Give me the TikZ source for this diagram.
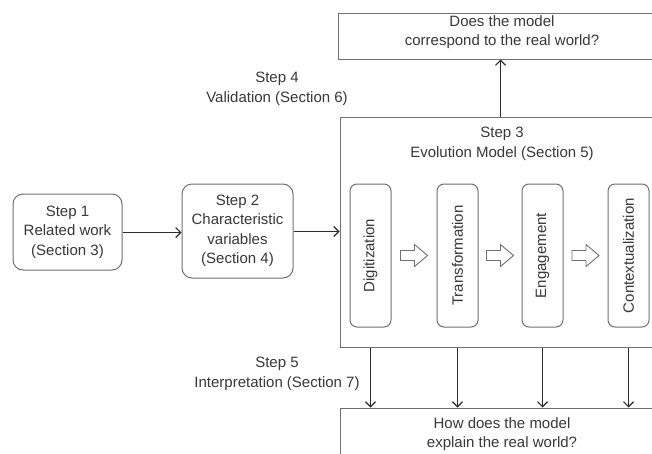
\documentclass[tikz,border=0pt]{standalone}
\usepackage{fontspec}
\setmainfont{Liberation Sans}
\usetikzlibrary{arrows.meta,calc}
\definecolor{ink}{HTML}{383838}
\definecolor{frame}{HTML}{707070}
\definecolor{wire}{HTML}{2E2E2E}
\tikzset{
  every node/.style={text=ink, font=\fontsize{15}{19.5}\selectfont, align=center},
  stepbox/.style={draw=frame, line width=1pt, rounded corners=10pt, inner sep=0pt},
  phasebox/.style={draw=frame, line width=1pt, rounded corners=7pt, inner sep=0pt,
    minimum width=41pt, minimum height=143pt},
  plainbox/.style={draw=frame, line width=1pt, inner sep=0pt},
  flow/.style={draw=wire, line width=1.1pt, -{Straight Barb[length=5pt,width=10pt]}},
  hollow/.style={draw=frame, line width=0.9pt, fill=white, line join=miter},
}
\begin{document}
\begin{tikzpicture}[x=1pt,y=-1pt]
  \clip (0,0) rectangle (652,453);
  \fill[white] (0,0) rectangle (652,453);

  % steps 1 and 2
  \node[stepbox, minimum width=109pt, minimum height=76pt] (s1) at (67.5,232)
    {Step 1\\Related work\\(Section 3)};
  \node[stepbox, minimum width=111pt, minimum height=94pt] (s2) at (237.5,231)
    {Step 2\\Characteristic\\variables\\(Section 4)};

  % step 3: the evolution model
  \node[plainbox, minimum width=324pt, minimum height=230pt] (evo) at (502,232) {};
  \node (t3) at (502,144) {Step 3\\Evolution Model (Section 5)};

  \node[phasebox] (dig) at (370.5,255.5) {\rotatebox{90}{Digitization}};
  \node[phasebox] (tra) at (457.5,255.5) {\rotatebox{90}{Transformation}};
  \node[phasebox] (eng) at (542.5,255.5) {\rotatebox{90}{Engagement}};
  \node[phasebox] (ctx) at (628.5,255.5) {\rotatebox{90}{Contextualization}};

  % hollow arrows between the phases
  \foreach \a/\b in {dig/tra, tra/eng, eng/ctx}{
    \path[hollow] ($(\a.east)!0.5!(\b.west)$) ++(-13.5,-5) -- ++(14,0) -- ++(0,-6)
      -- ++(13,11) -- ++(-13,11) -- ++(0,-6) -- ++(-14,0) -- cycle;
  }

  % questions
  \node[plainbox, minimum width=328pt, minimum height=46pt] (q1) at (502,36) {};
  \node (q1t) at (502,32) {Does the model\\correspond to the real world?};
  \node[plainbox, minimum width=324pt, minimum height=52pt] (q2) at (502,434)
    {How does the model\\explain the real world?};

  % steps 4 and 5
  \node (t4) at (277,89) {Step 4\\Validation (Section 6)};
  \node (t5) at (277,374) {Step 5\\Interpretation (Section 7)};

  % connectors
  \draw[flow] (s1.east |- 0,232.5) -- (s2.west |- 0,232.5);
  \draw[flow] (s2.east |- 0,231.5) -- (evo.west |- 0,231.5);
  \draw[flow] (500.5,0 |- evo.north) -- (500.5,0 |- q1.south);
  \foreach \p in {dig,tra,eng,ctx}{
    \draw[flow] (\p |- evo.south) -- (\p |- q2.north);
  }
\end{tikzpicture}
\end{document}
